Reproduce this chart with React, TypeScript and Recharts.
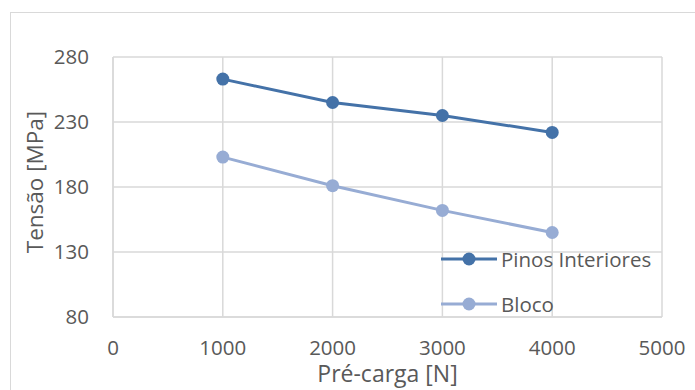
import React from 'react';
import { LineChart, Line, XAxis, YAxis, CartesianGrid, Legend } from 'recharts';

const preCarga = [1000, 2000, 3000, 4000];
const pinosInteriores = [263, 245, 235, 222];
const bloco = [203, 181, 162, 145];
const xTicks = [0, 1000, 2000, 3000, 4000, 5000];
const yTicks = [80, 130, 180, 230, 280];
const seriesOrder = ['Pinos Interiores', 'Bloco'];

const data = preCarga.map((x, i) => ({ x, pinos: pinosInteriores[i], bloco: bloco[i] }));

const FONT = '"Open Sans", Lato, sans-serif';
const TEXT = '#595959';
const GRID = '#d9d9d9';

const LegendContent = (props: any) => {
  const payload = [...(props.payload || [])].sort(
    (a: any, b: any) => seriesOrder.indexOf(a.value) - seriesOrder.indexOf(b.value)
  );
  return (
    <div style={{ fontFamily: FONT, fontSize: 20.5, color: TEXT }}>
      {payload.map((p: any) => (
        <div key={p.value} style={{ display: 'flex', alignItems: 'center', height: 45 }}>
          <svg width={56} height={20} style={{ display: 'block' }}>
            <line x1={0} y1={10} x2={56} y2={10} stroke={p.color} strokeWidth={3} />
            <circle cx={28} cy={10} r={6.5} fill={p.color} />
          </svg>
          <span style={{ marginLeft: 4, whiteSpace: 'nowrap', lineHeight: '20px' }}>{p.value}</span>
        </div>
      ))}
    </div>
  );
};

export default function App() {
  return (
    <div style={{ position: 'absolute', left: 0, top: 0, width: 695, height: 390, overflow: 'hidden', background: '#fff' }}>
      <div style={{ position: 'absolute', left: 10, top: 12, width: 720, height: 420, border: `1px solid ${GRID}`, boxSizing: 'border-box' }} />
      <LineChart
        width={695}
        height={390}
        data={data}
        margin={{ top: 57, right: 33, bottom: 43, left: 53 }}
        style={{ position: 'absolute', left: 0, top: 0 }}
      >
        <CartesianGrid stroke={GRID} strokeWidth={1.5} />
        <XAxis
          type="number"
          dataKey="x"
          domain={[0, 5000]}
          ticks={xTicks}
          interval={0}
          height={30}
          tickSize={0}
          tickMargin={23}
          axisLine={{ stroke: GRID, strokeWidth: 1.5 }}
          tickLine={false}
          tick={{ fill: TEXT, fontSize: 20.5, fontFamily: FONT }}
          label={{ value: 'Pré-carga [N]', position: 'bottom', offset: 19, fill: TEXT, fontSize: 23, fontFamily: FONT }}
        />
        <YAxis
          type="number"
          domain={[80, 280]}
          ticks={yTicks}
          interval={0}
          width={60}
          tickSize={0}
          tickMargin={24}
          axisLine={{ stroke: GRID, strokeWidth: 1.5 }}
          tickLine={false}
          tick={{ fill: TEXT, fontSize: 20.5, fontFamily: FONT }}
          label={{
            content: () => (
              <text x={34} y={182} transform="rotate(-90 34 182)" textAnchor="middle" dominantBaseline="central" fill={TEXT} fontSize={22.5} fontFamily={FONT}>
                Tensão [MPa]
              </text>
            ),
          }}
        />
        <Legend
          layout="vertical"
          align="center"
          verticalAlign="middle"
          itemSorter={null as any}
          content={<LegendContent />}
          wrapperStyle={{ position: 'absolute', left: 441, top: 236, width: 240 }}
        />
        <Line
          name="Pinos Interiores"
          dataKey="pinos"
          stroke="#4472A8"
          strokeWidth={3}
          dot={{ r: 6.5, fill: '#4472A8', stroke: '#4472A8', strokeWidth: 0 }}
          activeDot={false}
          isAnimationActive={false}
        />
        <Line
          name="Bloco"
          dataKey="bloco"
          stroke="#97ACD4"
          strokeWidth={3}
          dot={{ r: 6.5, fill: '#97ACD4', stroke: '#97ACD4', strokeWidth: 0 }}
          activeDot={false}
          isAnimationActive={false}
        />
      </LineChart>
    </div>
  );
}
